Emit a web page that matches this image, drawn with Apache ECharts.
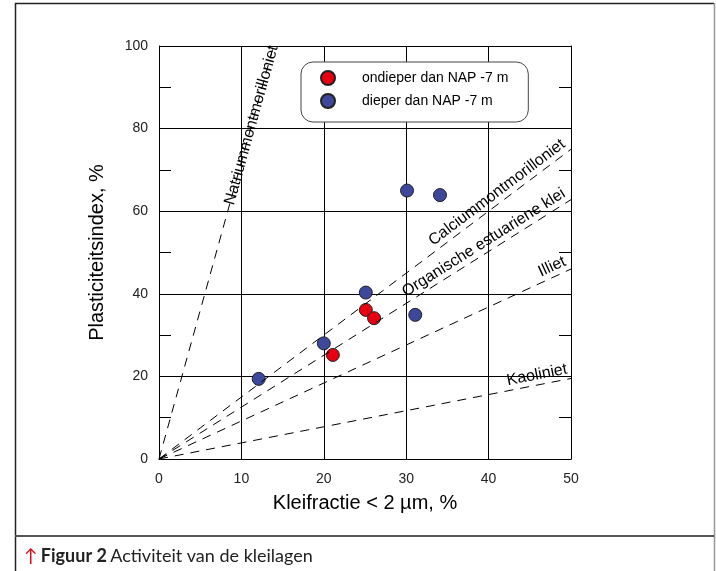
<!DOCTYPE html>
<html>
<head>
<meta charset="utf-8">
<script src="https://cdn.jsdelivr.net/npm/echarts@6/dist/echarts.min.js"></script>
<style>
  html, body { margin: 0; padding: 0; background: #fff; }
  #chart { width: 716px; height: 571px; }
</style>
</head>
<body>
<div id="chart"></div>
<script>
// meetpunten (kleifractie %, plasticiteitsindex %)
const ondieper = [[21.1, 25.2], [25.1, 36.1], [26.1, 34.1]];
const dieper = [[12.1, 19.4], [20.0, 28.0], [25.1, 40.3], [31.1, 34.9], [30.1, 65.0], [34.1, 63.9]];

// activiteitslijnen vanuit de oorsprong: naam, eindpunt, labelpositie
const lijnNamen = ['Natriummontmorilloniet', 'Calciummontmorilloniet', 'Organische estuariene klei', 'Illiet', 'Kaoliniet'];
const lijnEinden = [[13.9, 100], [50, 75], [50, 62.8], [50, 46], [50, 19.5]];
const lijnLabelPos = ['insideEnd', 'insideEndTop', 'insideEndTop', 'insideEndTop', 'insideEndTop'];

const xTicks = [0, 10, 20, 30, 40, 50];
const yTicks = [0, 20, 40, 60, 80, 100];

const FONT = 'Liberation Sans, Arial, sans-serif';

const chart = echarts.init(document.getElementById('chart'));

const markLineData = lijnNamen.map((naam, i) => [
  {
    coord: [0, 0],
    label: {
      show: true,
      formatter: naam,
      position: lijnLabelPos[i],
      distance: i === 0 ? 0 : 2,
      color: '#000',
      fontFamily: FONT,
      fontSize: 16
    }
  },
  { coord: lijnEinden[i] }
]);

const yAxisBase = {
  type: 'value',
  min: yTicks[0],
  max: yTicks[yTicks.length - 1],
  interval: 20,
  axisLine: { show: true, lineStyle: { color: '#000', width: 1 } },
  axisTick: { show: false, inside: true },
  minorTick: { show: true, splitNumber: 2, length: 12, lineStyle: { color: '#000', width: 1 } },
  splitLine: { show: false }
};

chart.setOption({
  backgroundColor: '#fff',
  animation: false,
  grid: { left: 159, top: 46, width: 412, height: 413 },
  legend: {
    orient: 'vertical',
    left: 301,
    top: 62,
    padding: [8, 20, 13, 19],
    itemGap: 7,
    itemWidth: 14,
    itemHeight: 14,
    backgroundColor: '#fff',
    borderColor: '#444',
    borderWidth: 1,
    borderRadius: 12,
    textStyle: { fontFamily: FONT, fontSize: 14, color: '#000', padding: [0, 0, 0, 22] },
    data: ['ondieper dan NAP -7 m', 'dieper dan NAP -7 m']
  },
  xAxis: {
    type: 'value',
    min: xTicks[0],
    max: xTicks[xTicks.length - 1],
    interval: 10,
    name: 'Kleifractie < 2 \u00b5m, %',
    nameLocation: 'middle',
    nameGap: 34,
    nameTextStyle: { fontFamily: FONT, fontSize: 20, color: '#000' },
    axisLine: { show: true, lineStyle: { color: '#000', width: 1 } },
    axisTick: { show: false },
    axisLabel: { margin: 13, fontFamily: FONT, fontSize: 14, color: '#222' },
    splitLine: { show: true, lineStyle: { color: '#000', width: 1 } }
  },
  yAxis: [
    Object.assign({}, yAxisBase, {
      position: 'left',
      name: 'Plasticiteitsindex, %',
      nameLocation: 'middle',
      nameGap: 52,
      nameTextStyle: { fontFamily: FONT, fontSize: 20, color: '#000' },
      axisLabel: { margin: 11, fontFamily: FONT, fontSize: 14, color: '#222' },
      splitLine: { show: true, lineStyle: { color: '#000', width: 1 } }
    }),
    Object.assign({}, yAxisBase, {
      position: 'right',
      axisLabel: { show: false }
    })
  ],
  series: [
    {
      name: 'activiteit',
      type: 'line',
      data: [],
      silent: true,
      markLine: {
        silent: true,
        symbol: 'none',
        animation: false,
        lineStyle: { color: '#000', type: [9, 7], width: 1 },
        data: markLineData
      }
    },
    {
      name: 'ondieper dan NAP -7 m',
      type: 'scatter',
      data: ondieper,
      symbol: 'circle',
      symbolSize: 13,
      itemStyle: { color: '#e60012', borderColor: '#222', borderWidth: 1, opacity: 1 }
    },
    {
      name: 'dieper dan NAP -7 m',
      type: 'scatter',
      data: dieper,
      symbol: 'circle',
      symbolSize: 13,
      itemStyle: { color: '#3d479c', borderColor: '#222', borderWidth: 1, opacity: 1 }
    }
  ],
  graphic: [
    {
      type: 'polyline',
      shape: { points: [[15.5, 580], [15.5, 3.5], [714, 3.5]] },
      style: { stroke: '#222', lineWidth: 1.5, fill: null },
      silent: true
    },
    {
      type: 'line',
      shape: { x1: 714.5, y1: 3, x2: 714.5, y2: 580 },
      style: { stroke: '#999', lineWidth: 1.5 },
      silent: true
    },
    {
      type: 'line',
      shape: { x1: 15, y1: 536, x2: 714, y2: 536 },
      style: { stroke: '#555', lineWidth: 2 },
      silent: true
    },
    {
      type: 'text',
      left: 24,
      top: 547,
      silent: true,
      style: {
        text: '{a|\u2191} {b|Figuur 2} {c|Activiteit van de kleilagen}',
        rich: {
          a: { fill: '#e30613', fontFamily: 'Lato, Open Sans, sans-serif', fontSize: 18 },
          b: { fill: '#222', fontFamily: 'Lato, Open Sans, sans-serif', fontSize: 18, fontWeight: 'bold' },
          c: { fill: '#222', fontFamily: 'Lato, Open Sans, sans-serif', fontSize: 18 }
        }
      }
    }
  ]
});
</script>
</body>
</html>
